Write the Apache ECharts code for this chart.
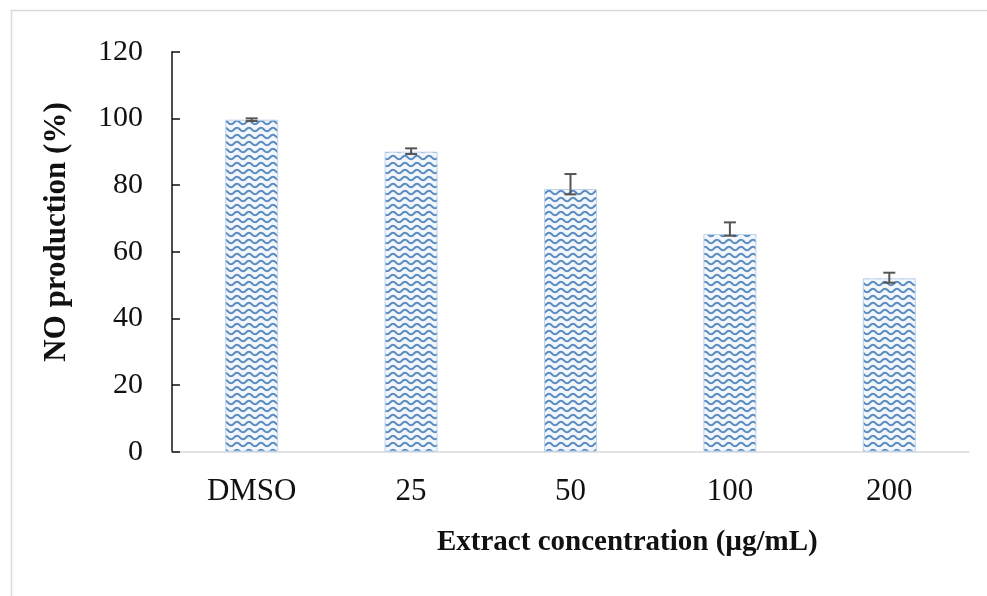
<!DOCTYPE html>
<html><head><meta charset="utf-8">
<script src="https://cdn.jsdelivr.net/npm/echarts@6/dist/echarts.min.js"></script>
<style>html,body{margin:0;padding:0;background:#fff}#c{width:987px;height:596px}</style>
</head><body><div id="c"></div>
<script>
var categories = ['DMSO', '25', '50', '100', '200'];
var values = [99.6, 90.0, 78.8, 65.3, 52.0];
var errUp = [0.4, 1.0, 4.5, 3.5, 1.7];
var errDown = [0.4, 0.7, 1.6, 0.5, 1.3];
var yTicks = [0, 20, 40, 60, 80, 100, 120];

// wavy fill pattern
var pc = document.createElement('canvas');
pc.width = 12; pc.height = 7;
var g = pc.getContext('2d');
g.fillStyle = '#f3f7fc'; g.fillRect(0, 0, 12, 7);
g.strokeStyle = '#5a8bc0'; g.lineWidth = 2;
g.beginPath();
for (var x = -1; x <= 13; x += 0.5) {
  var y = 3.5 + 1.7 * Math.sin((x / 12) * Math.PI * 2);
  if (x === -1) g.moveTo(x, y); else g.lineTo(x, y);
}
g.stroke();

var chart = echarts.init(document.getElementById('c'));
var errData = categories.map(function (c, i) { return [i, values[i] - errDown[i], values[i] + errUp[i]]; });
chart.setOption({
  animation: false,
  backgroundColor: '#fff',
  grid: { left: 172, right: 18, top: 51.7, bottom: 144.3 },
  xAxis: {
    type: 'category', data: categories,
    axisLine: { lineStyle: { color: '#d9d9d9', width: 1.5 } },
    axisTick: { show: false },
    axisLabel: { color: '#111', fontFamily: 'Liberation Serif', fontSize: 31, margin: 25 }
  },
  yAxis: {
    type: 'value', min: yTicks[0], max: yTicks[yTicks.length - 1], interval: 20,
    axisLine: { show: true, lineStyle: { color: '#111', width: 1.5 } },
    axisTick: { show: true, inside: true, length: 8, lineStyle: { color: '#111', width: 1.5 } },
    splitLine: { show: false },
    axisLabel: { color: '#111', fontFamily: 'Liberation Serif', fontSize: 30, margin: 29 }
  },
  graphic: [
    { type: 'rect', silent: true, z: -10, shape: { x: 11.5, y: 10.5, width: 1000, height: 1000 }, style: { fill: 'none', stroke: '#d9d9d9', lineWidth: 1.5 } },
    { type: 'text', left: 437, top: 528, style: { text: 'Extract concentration (µg/mL)', font: 'bold 29px "Liberation Serif"', fill: '#111' } },
    { type: 'text', x: 57, y: 232, rotation: Math.PI / 2, style: { text: 'NO production (%)', font: 'bold 31px "Liberation Serif"', fill: '#111', align: 'center', verticalAlign: 'middle' } }
  ],
  series: [
    {
      type: 'bar', data: values, barWidth: 53,
      itemStyle: { color: { image: pc, repeat: 'repeat' }, borderColor: '#bcd3ea', borderWidth: 1 }
    },
    {
      type: 'custom', data: errData, z: 5,
      renderItem: function (params, api) {
        var lo = api.coord([api.value(0), api.value(1)]);
        var hi = api.coord([api.value(0), api.value(2)]);
        var cx = lo[0], hw = 6;
        var st = { stroke: '#555', lineWidth: 2 };
        return { type: 'group', children: [
          { type: 'line', shape: { x1: cx, y1: lo[1], x2: cx, y2: hi[1] }, style: st },
          { type: 'line', shape: { x1: cx - hw, y1: lo[1], x2: cx + hw, y2: lo[1] }, style: st },
          { type: 'line', shape: { x1: cx - hw, y1: hi[1], x2: cx + hw, y2: hi[1] }, style: st }
        ]};
      }
    }
  ]
});
</script></body></html>
